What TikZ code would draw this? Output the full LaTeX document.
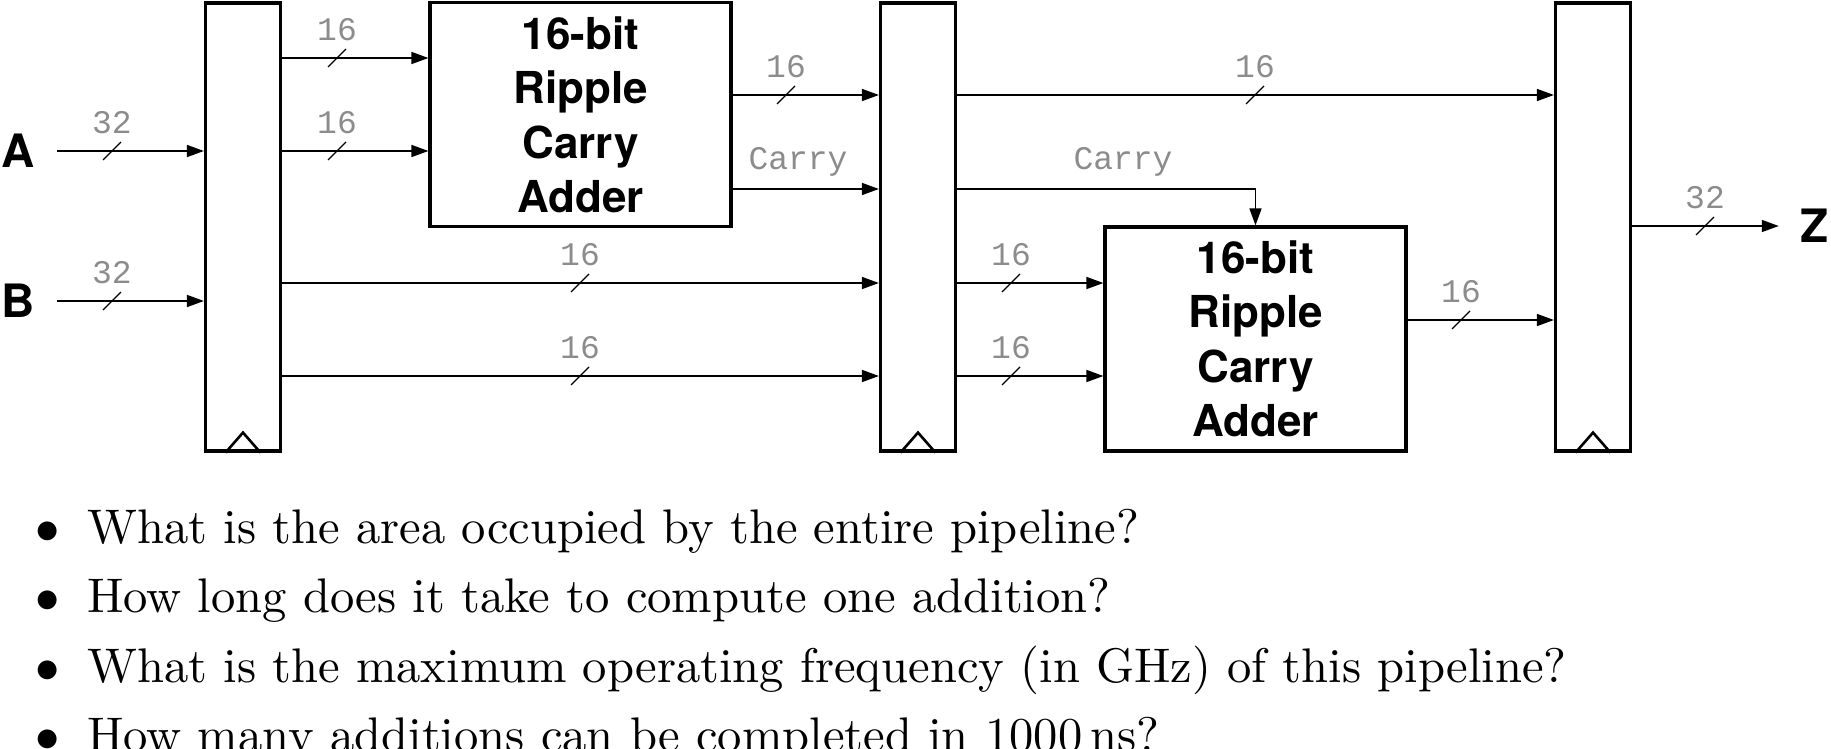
\documentclass[tikz,border=0pt]{standalone}
\usepackage{fontspec}
\usepackage{graphicx}
\usepackage{tikz}
\usetikzlibrary{arrows.meta}
\newfontfamily\helv{TeX Gyre Heros}
\newfontfamily\cour{Liberation Mono}
\newcommand{\qline}[1]{\scalebox{4.86}{\fontsize{10}{12}\selectfont #1}}

\begin{document}
\begin{tikzpicture}[x=1pt,y=-1pt,
	reg/.style={draw,line width=3.2pt,minimum width=75pt,minimum height=448pt,inner sep=0pt},
	adder/.style={draw,line width=3.2pt,minimum width=301pt,minimum height=224pt,inner sep=0pt,align=center,font=\helv\bfseries\fontsize{44}{54.5}\selectfont},
	io/.style={font=\helv\bfseries\fontsize{46}{46}\selectfont,inner xsep=22pt,inner ysep=0pt},
	wire/.style={line width=1.6pt,-{Triangle[length=17pt,width=12pt]}},
	slash/.style={line width=1.2pt},
	buslbl/.style={font=\cour\fontsize{33}{33}\selectfont,text=black!45,inner sep=0pt},
	clk/.style={line width=2.6pt},
	qtext/.style={anchor=base west,inner sep=0pt},
	qbul/.style={anchor=base,inner sep=0pt}]
	\useasboundingbox (0,0) rectangle (1831,749);

	\node[reg] (r1) at (243,227) {};
	\node[reg] (r2) at (918,227) {};
	\node[reg] (r3) at (1593,227) {};
	\draw[clk] ([xshift=-17.5pt]r1.south) -- ([yshift=20pt]r1.south) -- ([xshift=17.5pt]r1.south);
	\draw[clk] ([xshift=-17.5pt]r2.south) -- ([yshift=20pt]r2.south) -- ([xshift=17.5pt]r2.south);
	\draw[clk] ([xshift=-17.5pt]r3.south) -- ([yshift=20pt]r3.south) -- ([xshift=17.5pt]r3.south);

	\node[adder] (ad1) at (580.5,114.75) {16-bit\\Ripple\\Carry\\Adder};
	\node[adder] (ad2) at (1255.5,339) {16-bit\\Ripple\\Carry\\Adder};

	\node[io] (A) at (18,151) {A};
	\node[io] (B) at (18,301) {B};
	\node[io] (Z) at (1815,226) {Z};

	\draw[wire] (A) -- (r1.west |- A);
	\draw[wire] (B) -- (r1.west |- B);
	\draw[wire] (r1.east |- 0,58) -- (ad1.west |- 0,58);
	\draw[wire] (r1.east |- A) -- (ad1.west |- A);
	\draw[wire] (r1.east |- 0,283) -- (r2.west |- 0,283);
	\draw[wire] (r1.east |- 0,376) -- (r2.west |- 0,376);
	\draw[wire] (ad1.east |- 0,95) -- (r2.west |- 0,95);
	\draw[wire] (ad1.east |- 0,189) -- (r2.west |- 0,189);
	\draw[wire] (r2.east |- 0,95) -- (r3.west |- 0,95);
	\draw[wire] (r2.east |- 0,189) -| (ad2.north);
	\draw[wire] (r2.east |- 0,283) -- (ad2.west |- 0,283);
	\draw[wire] (r2.east |- 0,376) -- (ad2.west |- 0,376);
	\draw[wire] (ad2.east |- 0,320) -- (r3.west |- 0,320);
	\draw[wire] (r3.east |- Z) -- (Z);

	\foreach \x/\y/\w [count=\i] in {112/151/32,112/301/32,337/58/16,337/151/16,580/283/16,580/376/16,786/95/16,1255/95/16,1011/283/16,1011/376/16,1461/320/16,1705/226/32} {
		\draw[slash] (\x,\y) +(-9,9) -- +(9,-9);
		\node[buslbl] (w\i) at (\x,\y-28) {\w};
	}
	\node[buslbl] (c1) at (798,162) {Carry};
	\node[buslbl] (c2) at (1123,162) {Carry};

	\node[qbul] (b1) at (47.5,543) {\qline{$\bullet$}};
	\node[qbul] (b2) at (47.5,612) {\qline{$\bullet$}};
	\node[qbul] (b3) at (47.5,682) {\qline{$\bullet$}};
	\node[qbul] (b4) at (47.5,751) {\qline{$\bullet$}};
	\node[qtext] (q1) at (87,543) {\qline{What is the area occupied by the entire pipeline?}};
	\node[qtext] (q2) at (87,612) {\qline{How long does it take to compute one addition?}};
	\node[qtext] (q3) at (87,682) {\qline{What is the maximum operating frequency (in GHz) of this pipeline?}};
	\node[qtext] (q4) at (87,751) {\qline{How many additions can be completed in 1000\,ns?}};
\end{tikzpicture}
\end{document}
